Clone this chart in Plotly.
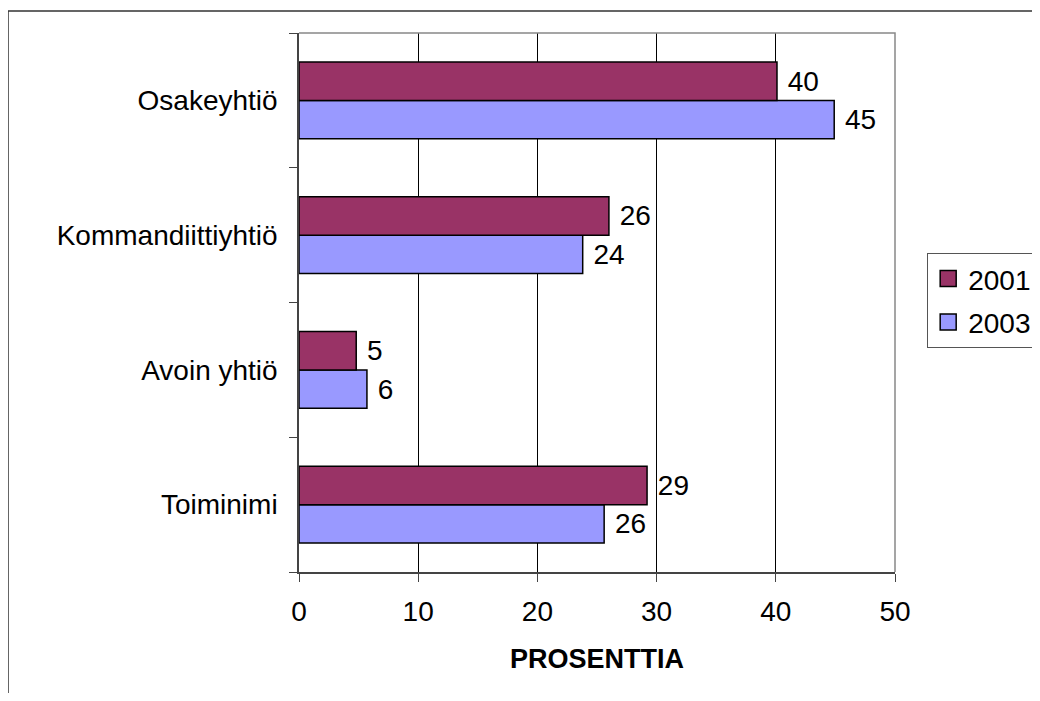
import plotly.graph_objects as go

# company forms, listed bottom-to-top as plotly draws them
categories = ["Toiminimi", "Avoin yhtiö", "Kommandiittiyhtiö", "Osakeyhtiö"]
values_2001 = [29.2, 4.8, 26.0, 40.1]
values_2003 = [25.6, 5.7, 23.8, 44.9]
x_ticks = [0, 10, 20, 30, 40, 50]

FONT = "Liberation Sans, Arial, sans-serif"
C2001 = "#993366"
C2003 = "#9999FF"

fig = go.Figure()

# 2003 first so that 2001 sits on top inside each group
fig.add_trace(go.Bar(
    y=categories, x=values_2003, name="2003", orientation="h",
    marker=dict(color=C2003, line=dict(color="black", width=1.5)),
    texttemplate=" %{x:.0f}", textposition="outside", cliponaxis=False,
    showlegend=False,
))
fig.add_trace(go.Bar(
    y=categories, x=values_2001, name="2001", orientation="h",
    marker=dict(color=C2001, line=dict(color="black", width=1.5)),
    texttemplate=" %{x:.0f}", textposition="outside", cliponaxis=False,
    showlegend=False,
))

# legend entries with bigger square swatches
for name, col in [("2001", C2001), ("2003", C2003)]:
    fig.add_trace(go.Scatter(
        x=[None], y=[None], mode="markers", name=name, legendgroup=name,
        marker=dict(symbol="square", size=16, color=col, line=dict(color="black", width=1.5)),
    ))

# legend is allowed to run off the right edge, like in the original
fig.update_layout(
    width=1024, height=685,
    margin=dict(l=291, r=137, t=25, b=121, autoexpand=False),
    paper_bgcolor="white", plot_bgcolor="white",
    font=dict(family=FONT, size=28, color="black"),
    barmode="group", bargap=0.43, bargroupgap=0,
    legend=dict(
        x=1.054, y=0.592, xanchor="left", yanchor="top",
        bordercolor="#555555", borderwidth=1, font=dict(size=28),
        tracegroupgap=4, itemsizing="trace",
    ),
    showlegend=True,
)

fig.update_xaxes(
    range=[0, 50], tickvals=x_ticks, showgrid=True, gridcolor="black", gridwidth=1,
    ticks="outside", ticklen=8, tickcolor="#444444", ticklabelstandoff=6,
    showline=True, linecolor="#444444", linewidth=1.5, zeroline=False,
    title=dict(text="<b>PROSENTTIA</b>", font=dict(size=27), standoff=23),
)
fig.update_yaxes(
    ticks="outside", ticklen=8, tickcolor="#444444", tickson="boundaries",
    showline=True, linecolor="#444444", linewidth=1.5, showgrid=False,
    ticklabelstandoff=14,
)

# gray frame on top and right side of the plot area
fig.add_shape(type="path", xref="paper", yref="paper", path="M0,1 L1,1 L1,0",
              line=dict(color="#888888", width=1.5), layer="above")
# outer chart border
fig.add_shape(type="rect", xref="paper", yref="paper",
              x0=(8 - 299) / 596, x1=(1045 - 299) / 596,
              y0=(572 - 705) / 539, y1=(572 - 11) / 539,
              line=dict(color="#333333", width=1.5))

fig.write_html("out.html")
